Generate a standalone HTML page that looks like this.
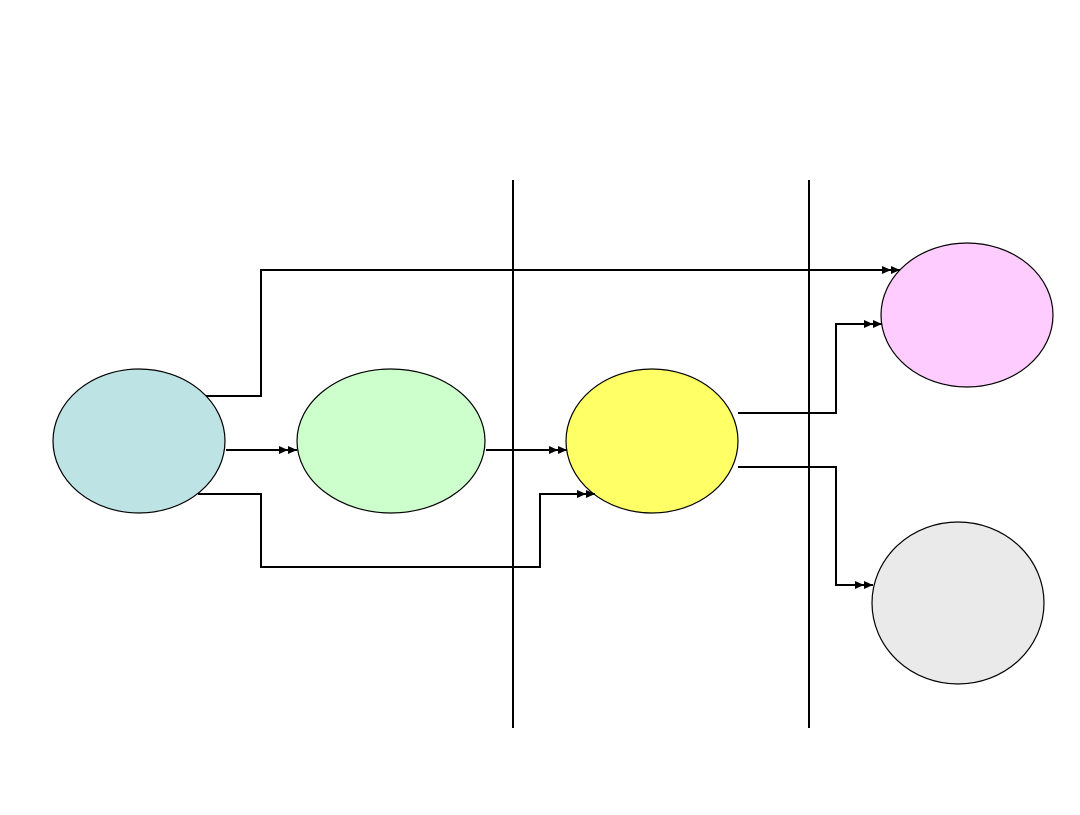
<!DOCTYPE html>
<html><head><meta charset="utf-8"><style>html,body{margin:0;padding:0;background:#fff}</style></head>
<body>
<svg width="1080" height="810" viewBox="0 0 1080 810" xmlns="http://www.w3.org/2000/svg">
<defs>
<marker id="a" markerWidth="20" markerHeight="8" refX="18" refY="4" orient="auto" markerUnits="userSpaceOnUse">
<path d="M0,0 L9,4 L0,8 Z M9,0 L18,4 L9,8 Z" fill="#000"/>
</marker>
</defs>
<g stroke="#000" stroke-width="2" fill="none">
<line x1="513" y1="180" x2="513" y2="728"/>
<line x1="809" y1="180" x2="809" y2="728"/>
</g>
<g stroke="#000" stroke-width="1.2">
<ellipse cx="139" cy="441" rx="86" ry="72" fill="#bde3e5"/>
<ellipse cx="391" cy="441" rx="94" ry="72" fill="#ccffcc"/>
<ellipse cx="652" cy="441" rx="86" ry="72" fill="#ffff66"/>
<ellipse cx="967" cy="315" rx="86" ry="72" fill="#ffccff"/>
<ellipse cx="958" cy="603" rx="86" ry="81" fill="#eaeaea"/>
</g>
<g stroke="#000" stroke-width="2" fill="none">
<polyline points="206,396 261,396 261,270 900,270" marker-end="url(#a)"/>
<polyline points="226,450 297,450" marker-end="url(#a)"/>
<polyline points="486,450 567,450" marker-end="url(#a)"/>
<polyline points="198,494 261,494 261,567 540,567 540,494 595,494" marker-end="url(#a)"/>
<polyline points="738,413 836,413 836,324 882,324" marker-end="url(#a)"/>
<polyline points="738,467 836,467 836,585 873,585" marker-end="url(#a)"/>
</g>
</svg>
</body></html>
